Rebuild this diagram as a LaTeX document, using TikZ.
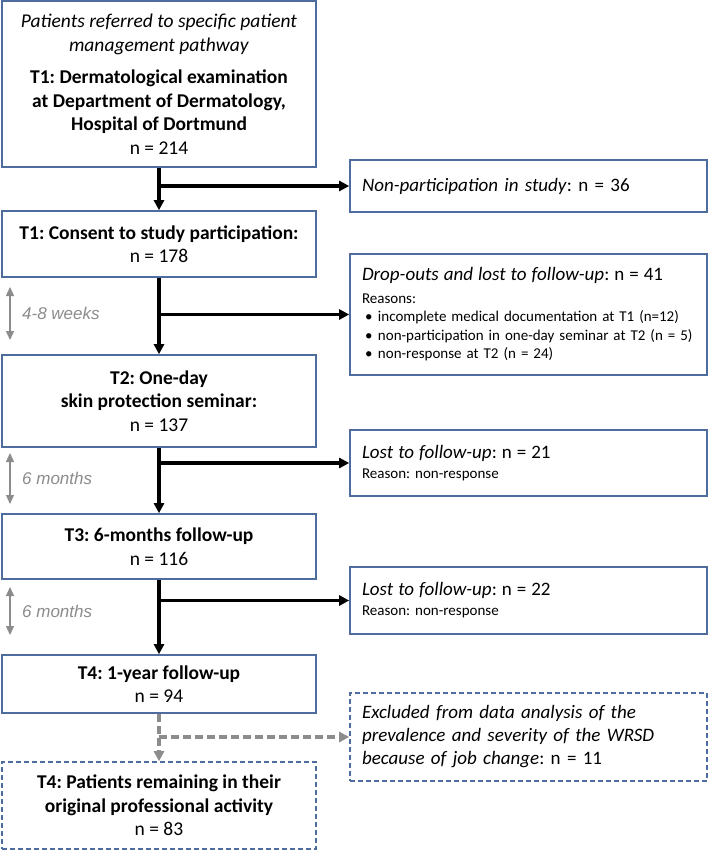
\documentclass[tikz,border=0pt]{standalone}
\usepackage{fontspec}
\setmainfont{Carlito}
\newfontfamily\sidefont{Liberation Sans}
\usetikzlibrary{arrows.meta}
\frenchspacing
\def\W{709}
\def\H{851}
\def\L{159}
\def\R{528.5}
\definecolor{boxcolor}{RGB}{79,108,158}
\definecolor{spancolor}{RGB}{140,140,140}
\definecolor{bgcolor}{RGB}{255,255,255}
\newcommand\reasonitem[1]{\makebox[16pt][l]{\hspace{3pt}\textbullet}#1}
\tikzset{
  flowbox/.style={draw=boxcolor,line width=1.6pt,minimum width=314pt,inner sep=0pt,align=center,
    font=\fontsize{19.5}{23.5}\selectfont},
  sidebox/.style={draw=boxcolor,line width=1.6pt,text width=333pt,inner xsep=12pt,inner ysep=0pt,align=left,
    font=\fontsize{19}{23}\selectfont},
  dashbox/.style={dash pattern=on 5pt off 3pt},
  flow/.style={line width=3.5pt,-{Triangle[length=10pt,width=10pt]}},
  dropflow/.style={flow,spancolor,dash pattern=on 8pt off 4pt},
  span/.style={spancolor,line width=1.4pt,{Triangle[length=9pt,width=8pt]}-{Triangle[length=9pt,width=8pt]}},
  spanlabel/.style={anchor=west,inner sep=0pt,text=spancolor,font=\sidefont\itshape\fontsize{17}{20}\selectfont},
}
\begin{document}
\begin{tikzpicture}[x=1pt,y=-1pt]
\fill[bgcolor] (0,0) rectangle (\W,\H);
\node[flowbox,minimum height=166pt] (exam) at (\L,84)
  {\textit{Patients referred to specific patient}\\\textit{management pathway}\\[9pt]
   \textbf{T1: Dermatological examination}\\\textbf{at Department of Dermatology,}\\
   \textbf{Hospital of Dortmund}\\n = 214};
\node[flowbox,minimum height=66pt] (consent) at (\L,244)
  {\textbf{T1: Consent to study participation:}\\n = 178};
\node[flowbox,minimum height=92pt] (seminar) at (\L,401)
  {\textbf{T2: One-day}\\\textbf{skin protection seminar:}\\n = 137};
\node[flowbox,minimum height=65pt] (followsix) at (\L,546.5)
  {\textbf{T3: 6-months follow-up}\\n = 116};
\node[flowbox,minimum height=58pt] (followyear) at (\L,684)
  {\textbf{T4: 1-year follow-up}\\n = 94};
\node[flowbox,dashbox,minimum height=87pt] (remain) at (\L,805.5)
  {\textbf{T4: Patients remaining in their}\\\textbf{original professional activity}\\n = 83};

\node[sidebox,minimum height=52pt] (nonpart) at (\R,186)
  {\textit{Non-participation in study}: n = 36};
\node[sidebox,minimum height=121pt,font=\fontsize{15}{18.5}\selectfont] (dropout) at (\R,314.5)
  {{\fontsize{19}{23}\selectfont\textit{Drop-outs and lost to follow-up}: n = 41}\\[4pt]
   Reasons:\\
   \reasonitem{incomplete medical documentation at T1 (n=12)}\\
   \reasonitem{non-participation in one-day seminar at T2 (n = 5)}\\
   \reasonitem{non-response at T2 (n = 24)}};
\node[sidebox,minimum height=66pt,font=\fontsize{15}{20}\selectfont] (lostsix) at (\R,463)
  {{\fontsize{19}{20}\selectfont\textit{Lost to follow-up}: n = 21}\\Reason: non-response};
\node[sidebox,minimum height=67pt,font=\fontsize{15}{20}\selectfont] (lostyear) at (\R,600.5)
  {{\fontsize{19}{20}\selectfont\textit{Lost to follow-up}: n = 22}\\Reason: non-response};
\node[sidebox,dashbox,minimum height=88pt] (excluded) at (\R,737)
  {\textit{Excluded from data analysis of the}\\\textit{prevalence and severity of the WRSD}\\
   \textit{because of job change}: n = 11};

\foreach \a/\b/\c in {exam/consent/nonpart,consent/seminar/dropout,seminar/followsix/lostsix,followsix/followyear/lostyear}{
  \draw[flow] (\a) -- (\b);
  \draw[flow] (\a.south |- \c.west) -- (\c.west);
}
\draw[dropflow] (followyear) -- (remain);
\draw[dropflow] (followyear.south |- excluded.west) -- (excluded.west);

\foreach \ya/\yb/\txt [count=\i] in {287/340/4-8 weeks,453/504/6 months,587/635/6 months}{
  \coordinate (spantop\i) at (10,\ya);
  \coordinate (spanbot\i) at (10,\yb);
  \draw[span] (spantop\i) -- (spanbot\i);
  \node[spanlabel] (spantext\i) at (22,{(\ya+\yb)/2}) {\txt};
}
\end{tikzpicture}
\end{document}
